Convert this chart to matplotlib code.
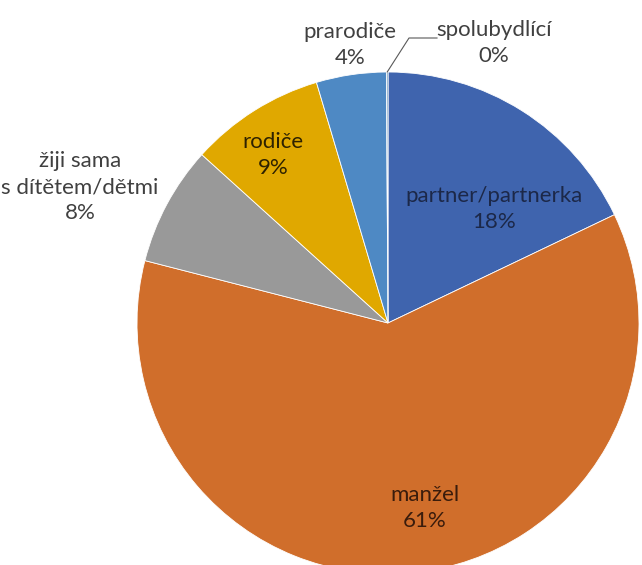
import matplotlib
matplotlib.use("Agg")
import matplotlib.pyplot as plt
import numpy as np

categories = ["partner/partnerka", "manžel", "žiji sama\ns dítětem/dětmi", "rodiče", "prarodiče", "spolubydlící"]
values = [17.9, 61.1, 7.7, 8.7, 4.5, 0.1]
pct_labels = ["18%", "61%", "8%", "9%", "4%", "0%"]

colors = ["#3F64AE", "#D06E2B", "#999999", "#E0A800", "#4E89C4", "#5C8FB8"]
text_colors = ["#1C2848", "#3A1C0C", "#404040", "#2E2200", "#404040", "#404040"]

W, H = 642, 565
fig = plt.figure(figsize=(W / 100, H / 100), dpi=100)
ax = fig.add_axes([0, 0, 1, 1])

cx, cy, r = 388, H - 323, 251
wedges, _ = ax.pie(values, startangle=90, counterclock=False, colors=colors,
                   center=(cx, cy), radius=r, frame=True,
                   wedgeprops=dict(edgecolor="white", linewidth=0.6))
ax.set_xlim(0, W)
ax.set_ylim(0, H)
ax.set_aspect("equal")
ax.axis("off")

# label layout (pixel coords of text centers, top-origin)
label_pos = [(494, 209), (425, 508), (80, 187), (273, 155), (350, 45), (494, 43)]
font = ["Lato", "DejaVu Sans"]
for cat, pct, (px, py), tc in zip(categories, pct_labels, label_pos, text_colors):
    ax.text(px, H - py, f"{cat}\n{pct}", ha="center", va="center", fontsize=16,
            color=tc, family=font, linespacing=1.38)

# leader line for the tiny slice
w = wedges[-1]
ang = np.deg2rad((w.theta1 + w.theta2) / 2)
x0, y0 = cx + r * np.cos(ang), cy + r * np.sin(ang)
ax.plot([x0, 409, 437], [y0, H - 38, H - 38], color="#595959", lw=0.8)

fig.savefig("out.png", dpi=100)
